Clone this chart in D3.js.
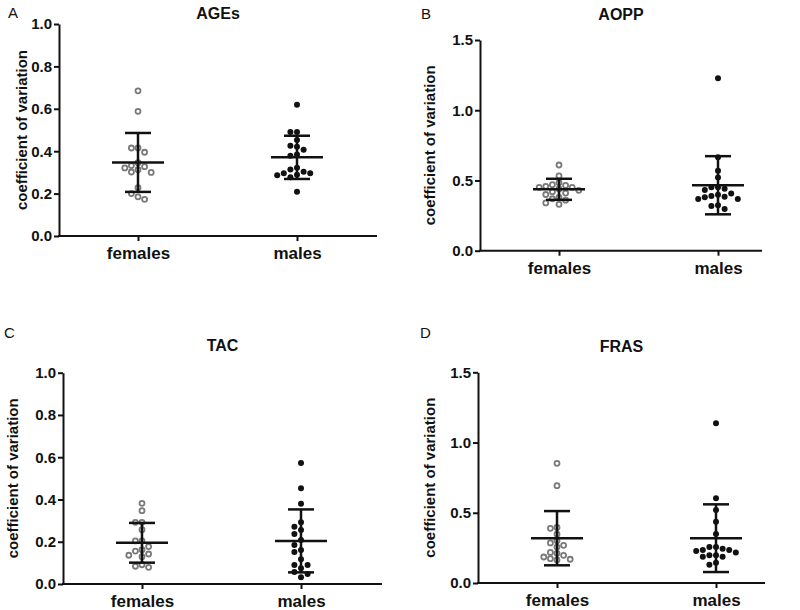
<!DOCTYPE html>
<html>
<head>
<meta charset="utf-8">
<script src="https://cdn.jsdelivr.net/npm/d3@7"></script>
<style>
  body { margin: 0; background: #fff; }
  svg { display: block; font-family: "Liberation Sans", Arial, sans-serif; }
</style>
</head>
<body>
<svg id="chart" width="800" height="610"></svg>
<script>
// Groups on the x axis
const groups = ["females", "males"];

// Tick values for the two kinds of y axis
const ticksUnit = [0, 0.2, 0.4, 0.6, 0.8, 1.0];
const ticksHalf = [0, 0.5, 1.0, 1.5];

// AGEs (panel A)
const agesFemales = [0.685, 0.588, 0.415, 0.415, 0.395, 0.346, 0.332, 0.327, 0.321, 0.313, 0.302, 0.300, 0.228, 0.200, 0.185, 0.173];
const agesMales = [0.619, 0.491, 0.491, 0.453, 0.426, 0.421, 0.407, 0.385, 0.379, 0.322, 0.314, 0.303, 0.296, 0.296, 0.289, 0.286, 0.277, 0.209];
const agesMean = [0.347, 0.371];
const agesSD = [0.139, 0.102];

// AOPP (panel B)
const aoppFemales = [0.610, 0.532, 0.484, 0.470, 0.465, 0.458, 0.451, 0.451, 0.440, 0.430, 0.420, 0.410, 0.400, 0.380, 0.370, 0.360, 0.340, 0.330];
const aoppMales = [1.227, 0.665, 0.569, 0.522, 0.451, 0.451, 0.441, 0.432, 0.408, 0.399, 0.389, 0.384, 0.380, 0.368, 0.368, 0.323, 0.318, 0.297];
const aoppMean = [0.437, 0.466];
const aoppSD = [0.075, 0.207];

// TAC (panel C)
const tacFemales = [0.382, 0.347, 0.292, 0.292, 0.257, 0.204, 0.204, 0.177, 0.162, 0.156, 0.142, 0.136, 0.129, 0.091, 0.084, 0.079];
const tacMales = [0.573, 0.453, 0.380, 0.292, 0.271, 0.256, 0.237, 0.208, 0.185, 0.161, 0.151, 0.117, 0.090, 0.090, 0.074, 0.057, 0.047, 0.032];
const tacMean = [0.195, 0.204];
const tacSD = [0.094, 0.149];

// FRAS (panel D)
const frasFemales = [0.852, 0.693, 0.396, 0.389, 0.347, 0.301, 0.285, 0.268, 0.256, 0.218, 0.211, 0.197, 0.185, 0.173, 0.169, 0.164];
const frasMales = [1.137, 0.603, 0.520, 0.436, 0.349, 0.256, 0.256, 0.244, 0.235, 0.235, 0.228, 0.218, 0.197, 0.197, 0.187, 0.187, 0.145, 0.130];
const frasMean = [0.319, 0.319];
const frasSD = [0.193, 0.241];

// Panel layout (pixel boxes of each plot)
const panels = [
    {letter: "A", title: "AGEs", left: 59, right: 377, top: 24, bottom: 236, max: 1.0, ticks: ticksUnit,
     values: [agesFemales, agesMales], mean: agesMean, sd: agesSD, labelX: 21, letterPos: [8, 18], titleY: 19},
    {letter: "B", title: "AOPP", left: 480, right: 762, top: 40, bottom: 250.7, max: 1.5, ticks: ticksHalf,
     values: [aoppFemales, aoppMales], mean: aoppMean, sd: aoppSD, labelX: 429, letterPos: [421, 19], titleY: 20},
    {letter: "C", title: "TAC", left: 63, right: 382, top: 372.7, bottom: 584, max: 1.0, ticks: ticksUnit,
     values: [tacFemales, tacMales], mean: tacMean, sd: tacSD, labelX: 12, letterPos: [4, 338], titleY: 351},
    {letter: "D", title: "FRAS", left: 478, right: 765, top: 372.3, bottom: 583, max: 1.5, ticks: ticksHalf,
     values: [frasFemales, frasMales], mean: frasMean, sd: frasSD, labelX: 429, letterPos: [420, 338], titleY: 352}
];

const svg = d3.select("#chart");

// Simple beeswarm: spread points sideways so they do not overlap
function swarm(vals, y, cx, step){
    var placed = [];
    var sorted = vals.slice().sort(function(a, b){ return b - a; });
    sorted.forEach(function(v){
        var py = y(v);
        for(var k = 0; k < 20; k++){
            var off = (k === 0) ? 0 : (k % 2 === 1 ? -Math.ceil(k / 2) : Math.ceil(k / 2));
            var px = cx + off * step;
            var ok = placed.every(function(p){
                return Math.hypot(p.x - px, p.y - py) >= step * 0.92;
            });
            if(ok){
                placed.push({x: px, y: py, v: v});
                break;
            }
        }
    });
    return placed;
}

panels.forEach(function(p){

    var g = svg.append("g");

    // Scales
    var y = d3.scaleLinear().domain([0, p.max]).range([p.bottom, p.top]);
    var x = d3.scalePoint().domain(groups).range([p.left + 79, p.left + 238]);

    // Panel letter
    g.append("text")
        .attr("x", p.letterPos[0])
        .attr("y", p.letterPos[1])
        .attr("font-size", "15px")
        .attr("fill", "#111")
        .text(p.letter);

    // Title
    g.append("text")
        .attr("x", (p.left + p.right) / 2)
        .attr("y", p.titleY)
        .attr("text-anchor", "middle")
        .attr("font-size", "16px")
        .attr("font-weight", "bold")
        .attr("fill", "#111")
        .text(p.title);

    // Y axis
    var yAxis = g.append("g")
        .attr("transform", "translate(" + p.left + ",0)")
        .call(d3.axisLeft(y).tickValues(p.ticks).tickFormat(d3.format(".1f")).tickSize(5).tickSizeOuter(0));
    yAxis.select(".domain").attr("stroke", "#111").attr("stroke-width", 2);
    yAxis.selectAll(".tick line").attr("stroke", "#111").attr("stroke-width", 2);
    yAxis.selectAll(".tick text")
        .attr("font-size", "15px")
        .attr("font-weight", "bold")
        .attr("font-family", "Liberation Sans, Arial, sans-serif")
        .attr("fill", "#111")
        .attr("x", -7);

    // Y axis label
    g.append("text")
        .attr("transform", "translate(" + p.labelX + "," + ((p.top + p.bottom) / 2) + ") rotate(-90)")
        .attr("text-anchor", "middle")
        .attr("dominant-baseline", "central")
        .attr("font-size", "15px")
        .attr("font-weight", "bold")
        .attr("fill", "#111")
        .text("coefficient of variation");

    // X axis
    var xAxis = g.append("g")
        .attr("transform", "translate(0," + p.bottom + ")")
        .call(d3.axisBottom(x).tickSize(5).tickSizeOuter(0));
    xAxis.select(".domain").remove();
    xAxis.append("line")
        .attr("x1", p.left - 1)
        .attr("x2", p.right)
        .attr("stroke", "#111")
        .attr("stroke-width", 2);
    xAxis.selectAll(".tick line").attr("stroke", "#111").attr("stroke-width", 2);
    xAxis.selectAll(".tick text")
        .attr("font-size", "17px")
        .attr("font-weight", "bold")
        .attr("font-family", "Liberation Sans, Arial, sans-serif")
        .attr("fill", "#111")
        .attr("y", 11);

    // Points
    groups.forEach(function(grp, i){
        var pts = swarm(p.values[i], y, x(grp), 6.6);
        var dots = g.append("g").selectAll("circle")
            .data(pts)
            .enter()
            .append("circle")
            .attr("cx", function(d){ return d.x; })
            .attr("cy", function(d){ return d.y; });
        if(i === 0){
            dots.attr("r", 2.5)
                .attr("fill", "#fff")
                .attr("stroke", "#7a7a7a")
                .attr("stroke-width", 1.8);
        }
        else{
            dots.attr("r", 3)
                .attr("fill", "#111");
        }

        // Mean and SD bars
        var cx = x(grp);
        var bars = g.append("g")
            .attr("stroke", "#111")
            .attr("stroke-width", 2.5);
        bars.append("line")
            .attr("x1", cx).attr("x2", cx)
            .attr("y1", y(p.mean[i] + p.sd[i]))
            .attr("y2", y(p.mean[i] - p.sd[i]));
        bars.append("line")
            .attr("x1", cx - 26).attr("x2", cx + 26)
            .attr("y1", y(p.mean[i])).attr("y2", y(p.mean[i]));
        [p.mean[i] + p.sd[i], p.mean[i] - p.sd[i]].forEach(function(v){
            bars.append("line")
                .attr("x1", cx - 13).attr("x2", cx + 13)
                .attr("y1", y(v)).attr("y2", y(v));
        });
    });
});
</script>
</body>
</html>
